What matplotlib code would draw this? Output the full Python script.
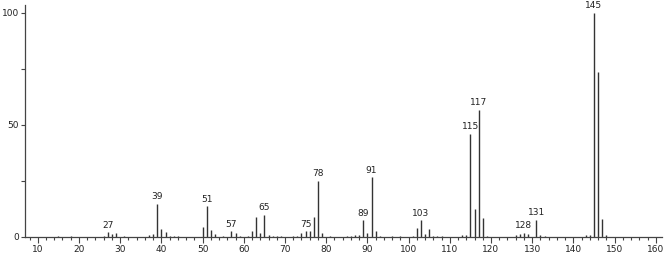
import matplotlib
matplotlib.use("Agg")
import matplotlib.pyplot as plt
from matplotlib.ticker import MultipleLocator

mz = [15, 18, 26, 27, 28, 29, 31, 37, 38, 39, 40, 41, 42, 43, 44,
      50, 51, 52, 53, 55, 57, 58, 59, 61, 62, 63, 64, 65, 66, 67, 68, 69,
      72, 73, 74, 75, 76, 77, 78, 79, 81,
      85, 86, 87, 88, 89, 90, 91, 92, 93, 96, 98,
      101, 102, 103, 104, 105, 106, 107, 108,
      113, 114, 115, 116, 117, 118, 119,
      126, 127, 128, 129, 131, 132, 133,
      143, 144, 145, 146, 147, 148]
intensity = [0.5, 0.5, 0.6, 2.1, 1.5, 1.6, 0.5, 0.9, 1.5, 14.9, 3.7, 2.2, 0.6, 0.5, 0.5,
             4.6, 13.7, 2.9, 1.3, 0.4, 2.5, 1.7, 0.5, 0.5, 2.8, 8.9, 1.9, 10.0, 0.8, 0.5, 0.6, 0.5,
             0.6, 0.5, 1.7, 2.5, 2.5, 9.1, 25.0, 2.0, 0.4,
             0.5, 0.6, 0.9, 0.8, 7.4, 1.6, 26.6, 2.7, 0.5, 0.4, 0.4,
             0.6, 3.9, 7.4, 1.2, 3.7, 0.6, 0.5, 0.5,
             0.8, 0.8, 46.1, 12.6, 56.8, 8.6, 0.5,
             0.7, 1.5, 2.0, 1.3, 7.7, 0.8, 0.5,
             0.7, 1.0, 100.0, 73.6, 8.0, 0.9]
labeled = [27, 39, 51, 57, 65, 75, 78, 89, 91, 103, 115, 117, 128, 131, 145]

fig = plt.figure(figsize=(6.66, 2.54), dpi=100)
ax = fig.add_axes([25/666, 17/254, (662-25)/666, (237-5)/254])
ax.vlines(mz, 0, intensity, color="#333333", lw=1.0)
for m in labeled:
    h = intensity[mz.index(m)]
    ax.text(m, h + 1.2, str(m), ha="center", va="bottom", fontsize=6.5, color="#222222")

ax.set_xlim(6.9, 161.5)
ax.set_ylim(0, 103.5)
for s in ["top", "right"]:
    ax.spines[s].set_visible(False)
for s in ["left", "bottom"]:
    ax.spines[s].set_color("#444444")
    ax.spines[s].set_linewidth(0.9)
ax.xaxis.set_major_locator(MultipleLocator(10))
ax.xaxis.set_minor_locator(MultipleLocator(2))
ax.yaxis.set_major_locator(MultipleLocator(50))
ax.yaxis.set_minor_locator(MultipleLocator(25))
ax.tick_params(axis="both", which="both", direction="out", colors="#444444", labelcolor="#222222",
               labelsize=6.5, width=0.8)
ax.tick_params(axis="x", which="major", length=4, pad=2)
ax.tick_params(axis="x", which="minor", length=2.5)
ax.tick_params(axis="y", which="major", length=3, pad=1.5)
ax.tick_params(axis="y", which="minor", length=3)
fig.savefig("out.png", dpi=100)
